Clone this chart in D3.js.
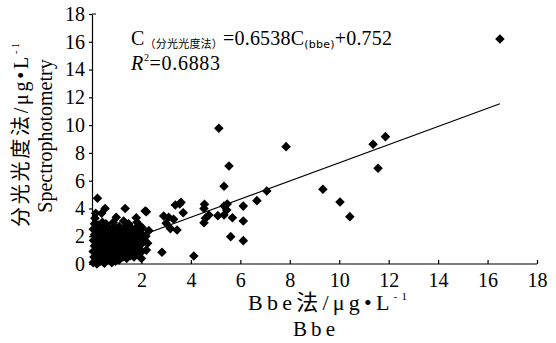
<!DOCTYPE html>
<html>
<head>
<meta charset="utf-8">
<script src="https://cdn.jsdelivr.net/npm/d3@7"></script>
<style>
  body { margin: 0; background: #fff; }
  svg text { font-family: "Liberation Serif", "Times New Roman", serif; fill: #000; }
</style>
</head>
<body>
<svg id="chart" width="556" height="343"></svg>
<script>
// Bbe method (x) vs spectrophotometry (y)
const bbe = [
  0.05, 0.08, 0.05, 0.10, 0.06, 0.10, 0.05, 0.10, 0.12,
  0.20, 0.22, 0.18, 0.25, 0.20, 0.22, 0.18, 0.25, 0.22, 0.15,
  0.35, 0.38, 0.32, 0.40, 0.35, 0.38, 0.33, 0.39, 0.42,
  0.50, 0.52, 0.48, 0.55, 0.50, 0.53, 0.50, 0.53, 0.56,
  0.65, 0.68, 0.62, 0.70, 0.66, 0.70, 0.64,
  0.80, 0.82, 0.78, 0.85, 0.80, 0.84, 0.80, 0.86,
  0.95, 0.98, 0.93, 1.00, 0.96, 0.98, 1.00, 0.94,
  1.10, 1.12, 1.08, 1.15, 1.10, 1.14, 1.10,
  1.25, 1.28, 1.22, 1.30, 1.26, 1.34, 1.30, 1.28,
  1.40, 1.42, 1.38, 1.45, 1.40, 1.44, 1.48,
  1.55, 1.58, 1.52, 1.60, 1.56, 1.60,
  1.70, 1.72, 1.68, 1.75, 1.70, 1.74, 1.79, 1.82,
  1.85, 1.88, 1.82, 1.90, 1.86, 1.90,
  2.00, 2.02, 1.98, 2.05, 2.00, 2.04, 2.15, 2.20,
  2.20, 2.25, 2.18, 2.30,
  2.83, 2.90, 3.00, 3.10, 3.17, 3.30, 3.37, 3.55, 3.44, 3.69, 3.60,
  4.12, 4.53, 4.55, 4.53, 4.59, 4.73, 5.09, 5.13, 5.34, 5.34, 5.45,
  5.47, 5.34, 5.68, 5.54, 5.61, 6.12, 6.12, 6.12, 6.67, 7.07, 7.85,
  9.34, 10.03, 10.43, 11.37, 11.57, 11.87, 16.50
];
const spectro = [
  0.10, 0.50, 0.90, 1.30, 1.70, 2.10, 2.50, 2.90, 3.30,
  0.00, 0.40, 0.80, 1.20, 1.60, 2.00, 2.40, 2.80, 4.73, 3.65,
  0.20, 0.60, 1.00, 1.40, 1.80, 2.20, 2.60, 3.65, 3.00,
  0.05, 0.45, 0.85, 1.25, 1.65, 2.05, 2.45, 4.00, 2.90,
  0.30, 0.70, 1.10, 1.50, 1.90, 2.30, 2.70,
  0.10, 0.50, 0.90, 1.30, 1.70, 2.10, 2.50, 3.00,
  0.20, 0.60, 1.00, 1.40, 1.80, 3.36, 2.20, 2.60,
  0.30, 0.70, 1.10, 1.50, 1.90, 2.30, 2.70,
  0.50, 0.90, 1.30, 1.70, 2.10, 4.00, 2.60, 3.10,
  0.40, 0.80, 1.20, 1.60, 2.00, 2.40, 2.90,
  0.60, 1.00, 1.40, 1.80, 2.20, 2.60,
  0.50, 0.90, 1.30, 1.70, 2.10, 2.50, 3.33, 3.00,
  0.80, 1.20, 1.60, 2.00, 2.40, 2.80,
  0.40, 0.90, 1.40, 1.80, 2.20, 2.60, 3.82, 3.77,
  1.00, 1.50, 2.00, 2.40,
  0.85, 3.46, 2.93, 3.36, 2.55, 3.22, 4.25, 4.32, 2.45, 3.69, 4.45,
  0.58, 4.00, 4.30, 2.97, 3.30, 3.53, 3.48, 9.77, 5.60, 4.18, 3.89,
  4.32, 3.53, 3.33, 7.06, 1.97, 4.17, 3.10, 1.68, 4.56, 5.26, 8.45,
  5.38, 4.46, 3.41, 8.62, 6.89, 9.17, 16.20
];
const xTicks = [2, 4, 6, 8, 10, 12, 14, 16, 18];
const yTicks = [0, 2, 4, 6, 8, 10, 12, 14, 16, 18];
const slope = 0.6538, intercept = 0.752;
const fitRange = [0, 16.5];

const svg = d3.select('#chart');
const x = d3.scaleLinear().domain([0, 18]).range([92, 537]);
const y = d3.scaleLinear().domain([0, 18]).range([264, 14]);

// axes
const xAxis = svg.append('g')
  .attr('transform', `translate(0,${y(0)})`)
  .call(d3.axisBottom(x).tickValues(xTicks).tickSizeInner(-4).tickSizeOuter(0).tickPadding(8));
xAxis.select('.domain').attr('d', `M${x(0)},0H${x(18)}`);
xAxis.selectAll('text').attr('font-size', 20).attr('dy', '0.75em');

const yAxis = svg.append('g')
  .attr('transform', `translate(${x(0)},0)`)
  .call(d3.axisLeft(y).tickValues(yTicks).tickSize(3).tickSizeOuter(0).tickPadding(4));
yAxis.selectAll('text').attr('font-size', 20);
yAxis.append('line').attr('x1', 0).attr('x2', 4).attr('y1', y(18)).attr('y2', y(18)).attr('stroke', '#000');
svg.selectAll('.domain, .tick line').attr('stroke', '#000').attr('stroke-width', 1.2);

// points
const pts = bbe.map((v, i) => ({ x: v, y: spectro[i] }));
svg.append('g').selectAll('path')
  .data(pts)
  .join('path')
  .attr('d', d3.symbol(d3.symbolSquare, 46))
  .attr('transform', d => `translate(${x(d.x)},${y(d.y)}) rotate(45)`)
  .attr('fill', '#000');

// trend line
svg.append('line')
  .attr('x1', x(fitRange[0])).attr('y1', y(slope * fitRange[0] + intercept))
  .attr('x2', x(fitRange[1])).attr('y2', y(slope * fitRange[1] + intercept))
  .attr('stroke', '#000').attr('stroke-width', 1.2);

// equation
const eq = svg.append('text').attr('x', 131).attr('y', 45).attr('font-size', 20)
  .attr('textLength', 261).attr('lengthAdjust', 'spacing');
eq.append('tspan').text('C');
eq.append('tspan').attr('font-size', 11).attr('dy', 3)
  .style('font-family', '"Noto Sans CJK SC"').text('（分光光度法）');
eq.append('tspan').attr('dy', -3).text('=0.6538C');
eq.append('tspan').attr('font-size', 11).attr('dy', 3).style('font-family', '"DejaVu Sans"').text('(bbe)');
eq.append('tspan').attr('dy', -3).text('+0.752');

const r2 = svg.append('text').attr('x', 131).attr('y', 70).attr('font-size', 20)
  .attr('textLength', 89).attr('lengthAdjust', 'spacing');
r2.append('tspan').attr('font-style', 'italic').text('R');
r2.append('tspan').attr('font-size', 10).attr('dy', -9).text('2');
r2.append('tspan').attr('dy', 9).text('=0.6883');

// axis titles
const xt = svg.append('text').attr('x', 248).attr('y', 310).attr('font-size', 22)
  .attr('textLength', 159).attr('lengthAdjust', 'spacing');
xt.append('tspan').text('Bbe');
xt.append('tspan').style('font-family', '"Noto Sans CJK SC"').text('法');
xt.append('tspan').text('/μg•L');
xt.append('tspan').attr('font-size', 11).attr('dy', -10).text('-1');
svg.append('text').attr('x', 293).attr('y', 336).attr('font-size', 21)
  .attr('textLength', 42).attr('lengthAdjust', 'spacing').text('Bbe');

const yt = svg.append('text').attr('transform', 'translate(28,227) rotate(-90)')
  .attr('font-size', 20).attr('textLength', 184).attr('lengthAdjust', 'spacing');
yt.append('tspan').style('font-family', '"Noto Sans CJK SC"').text('分光光度法');
yt.append('tspan').text('/μg•L');
yt.append('tspan').attr('font-size', 10).attr('dy', -9).text('-1');
svg.append('text').attr('transform', 'translate(52,136) rotate(-90)')
  .attr('text-anchor', 'middle').attr('font-size', 20).text('Spectrophotometry');
</script>
</body>
</html>
